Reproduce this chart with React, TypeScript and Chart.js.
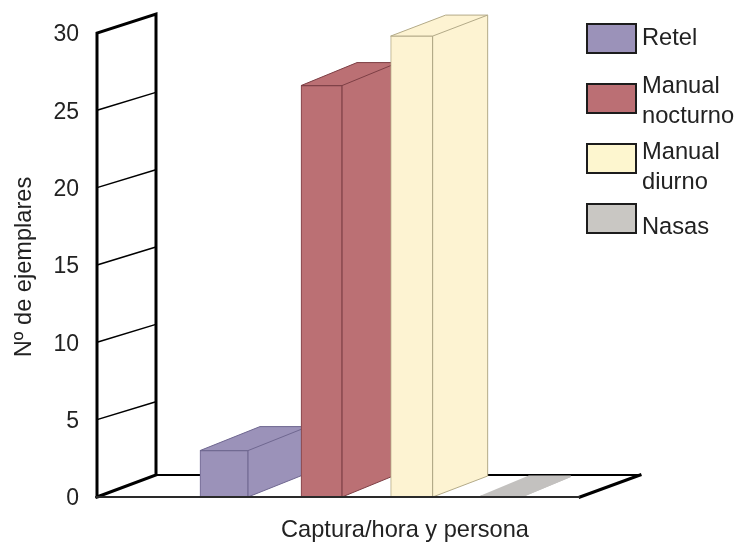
import React, { useEffect, useRef } from "react";
import { Chart, registerables } from "chart.js";

Chart.register(...registerables);

const seriesNames = ["Retel", "Manual nocturno", "Manual diurno", "Nasas"];
const legendLines = [["Retel"], ["Manual", "nocturno"], ["Manual", "diurno"], ["Nasas"]];
const seriesValues = [3, 26.6, 29.8, 0.1];
const slotPositions = [1, 2.06, 3.04, 4.02];
const barWidths = [48, 41, 42, 42];
const fillColors = ["#9b92b9", "#bb7074", "#fdf3d2", "#c3c1bf"];
const edgeColors = ["#6f6790", "#7d3f45", "#b3aa88", "#c3c1bf"];
const legendFills = ["#9b92b9", "#bb6f74", "#fdf6cf", "#c9c7c3"];
const depthX = [60, 56, 55, 48];
const depthY = [-24, -23, -21, -20];
const yTicks = [0, 5, 10, 15, 20, 25, 30];

const FONT = '"Liberation Sans", Arial, sans-serif';
const TEXT = "#222222";
const WALL_DX = 59;
const WALL_DY = -19;
const FLOOR_END = 4.87;

const scene = {
  id: "scene",
  beforeDatasetsDraw(chart: any) {
    const { ctx, scales } = chart;
    const y = scales.y;
    const x0 = chart.chartArea.left;
    const y0 = y.getPixelForValue(0);
    ctx.save();
    ctx.strokeStyle = "#000";
    ctx.lineCap = "square";
    ctx.lineWidth = 1.5;
    for (const t of yTicks) {
      if (t === 0 || t === 30) continue;
      const p = y.getPixelForValue(t);
      ctx.beginPath();
      ctx.moveTo(x0, p);
      ctx.lineTo(x0 + WALL_DX, p + WALL_DY + 1);
      ctx.stroke();
    }
    ctx.lineWidth = 3;
    const top = y.getPixelForValue(30);
    ctx.beginPath();
    ctx.moveTo(x0, y0);
    ctx.lineTo(x0, top);
    ctx.lineTo(x0 + WALL_DX, top + WALL_DY);
    ctx.lineTo(x0 + WALL_DX, y0 - 22);
    ctx.lineTo(x0, y0);
    ctx.stroke();
    const endX = scales.x.getPixelForValue(FLOOR_END);
    ctx.lineWidth = 2;
    ctx.beginPath();
    ctx.moveTo(x0 + WALL_DX, y0 - 22);
    ctx.lineTo(endX + 60, y0 - 22);
    ctx.stroke();
    ctx.lineWidth = 3;
    ctx.beginPath();
    ctx.moveTo(endX + 60, y0 - 22);
    ctx.lineTo(endX, y0);
    ctx.stroke();
    ctx.restore();
  },
  beforeDatasetDraw(chart: any, args: any) {
    const i = args.index;
    const bar = chart.getDatasetMeta(i).data[0];
    const { ctx } = chart;
    const l = bar.x - bar.width / 2;
    const r = bar.x + bar.width / 2;
    const dx = depthX[i];
    const dy = depthY[i];
    ctx.save();
    ctx.fillStyle = fillColors[i];
    ctx.strokeStyle = edgeColors[i];
    ctx.lineWidth = 1;
    ctx.beginPath();
    ctx.moveTo(r, bar.base);
    ctx.lineTo(r + dx, bar.base + dy);
    ctx.lineTo(r + dx, bar.y + dy);
    ctx.lineTo(l + dx, bar.y + dy);
    ctx.lineTo(l, bar.y);
    ctx.lineTo(r, bar.y);
    ctx.closePath();
    ctx.fill();
    if (i !== 3) {
      ctx.stroke();
      ctx.beginPath();
      ctx.moveTo(r, bar.y);
      ctx.lineTo(r + dx, bar.y + dy);
      ctx.stroke();
    } else {
      ctx.beginPath();
      ctx.moveTo(l, bar.base);
      ctx.lineTo(l + dx, bar.base + dy);
      ctx.lineTo(r + dx, bar.base + dy);
      ctx.lineTo(r, bar.base);
      ctx.closePath();
      ctx.fill();
    }
    ctx.restore();
  },
  afterDatasetsDraw(chart: any) {
    const { ctx, scales } = chart;
    const x0 = chart.chartArea.left;
    const y0 = scales.y.getPixelForValue(0);
    const endX = scales.x.getPixelForValue(FLOOR_END);
    ctx.save();
    ctx.strokeStyle = "#2a2a2a";
    ctx.lineWidth = 2;
    ctx.beginPath();
    ctx.moveTo(x0 - 2, y0);
    ctx.lineTo(endX, y0);
    ctx.stroke();
    ctx.restore();
  },
  afterDraw(chart: any) {
    const { ctx } = chart;
    const boxX = 587;
    const boxW = 49;
    const boxH = 29;
    const boxTops = [24, 84, 144, 204];
    const textY = [[38], [86, 116], [152, 182], [227]];
    ctx.save();
    ctx.font = `23.7px ${FONT}`;
    ctx.textBaseline = "middle";
    ctx.textAlign = "left";
    legendLines.forEach((lines, i) => {
      ctx.fillStyle = legendFills[i];
      ctx.fillRect(boxX, boxTops[i], boxW, boxH);
      ctx.strokeStyle = "#1c1c1c";
      ctx.lineWidth = 2;
      ctx.strokeRect(boxX, boxTops[i], boxW, boxH);
      ctx.fillStyle = TEXT;
      lines.forEach((t, k) => ctx.fillText(t, 642, textY[i][k]));
    });
    ctx.restore();
  },
};

export default function App() {
  const ref = useRef<HTMLCanvasElement>(null);
  useEffect(() => {
    document.body.style.margin = "0";
    const chart = new Chart(ref.current as HTMLCanvasElement, {
      type: "bar",
      data: {
        datasets: seriesNames.map((name, i) => ({
          label: name,
          data: [{ x: slotPositions[i], y: seriesValues[i] }],
          backgroundColor: fillColors[i],
          borderColor: edgeColors[i],
          borderWidth: i === 3 ? 0 : 1,
          barThickness: barWidths[i],
          grouped: false,
          order: seriesNames.length - i,
        })),
      },
      options: {
        responsive: false,
        animation: false,
        layout: { padding: { top: 33, right: 39, left: 0, bottom: 0 } },
        plugins: { legend: { display: false }, tooltip: { enabled: false } },
        scales: {
          x: {
            type: "linear",
            offset: false,
            min: -0.38,
            max: 6.315,
            grid: { display: false },
            border: { display: false },
            ticks: { display: false },
            title: {
              display: true,
              text: "Captura/hora y persona",
              color: TEXT,
              font: { family: FONT, size: 23.6 },
              padding: { top: 19, bottom: 0 },
            },
            afterFit(s: any) {
              s.height = 48;
            },
          },
          y: {
            min: 0,
            max: 30,
            grid: { display: false },
            border: { display: false },
            afterBuildTicks(s: any) {
              s.ticks = yTicks.map((value) => ({ value }));
            },
            ticks: {
              color: TEXT,
              padding: 10,
              font: { family: FONT, size: 23 },
            },
            title: {
              display: true,
              text: "Nº de ejemplares",
              color: TEXT,
              font: { family: FONT, size: 23.6 },
              padding: { top: 10, bottom: 0 },
            },
            afterFit(s: any) {
              s.width = 97;
              // labels sit 2px below the scale's own mid-line in the reference
              s.draw = function (area: any) {
                const c = this.ctx;
                c.save();
                c.translate(0, 2);
                Object.getPrototypeOf(this).draw.call(this, area);
                c.restore();
              };
            },
          },
        },
      },
      plugins: [scene],
    } as any);
    return () => chart.destroy();
  }, []);
  return (
    <div style={{ position: "absolute", left: 0, top: 0, width: 752, height: 545 }}>
      <canvas ref={ref} width={752} height={545} style={{ display: "block" }} />
    </div>
  );
}
